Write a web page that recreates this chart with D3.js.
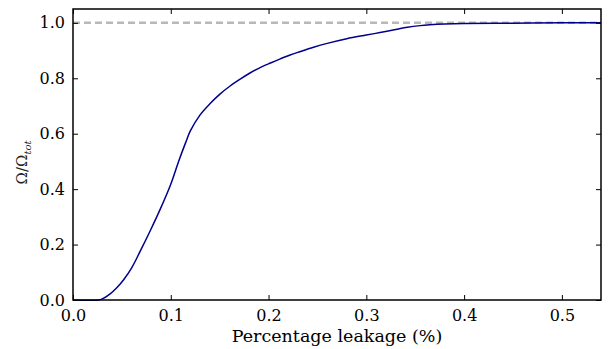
<!DOCTYPE html>
<html>
<head>
<meta charset="utf-8">
<script src="https://cdn.jsdelivr.net/npm/d3@7"></script>
<style>
  body { margin: 0; background: #fff; }
  text { font-family: "DejaVu Serif", serif; }
</style>
</head>
<body>
<div id="chart"></div>
<script>
const width = 611;
const height = 349;
const margin = {top: 9, right: 10, bottom: 49, left: 73};

// leakage (%) and fraction of the total
const leak = [0, 0.026, 0.03, 0.038, 0.045, 0.052, 0.06, 0.069, 0.079, 0.089, 0.1, 0.108, 0.115,
  0.12, 0.13, 0.14, 0.15, 0.161, 0.171, 0.181, 0.19, 0.202, 0.212, 0.222, 0.232, 0.246, 0.26,
  0.28, 0.3, 0.314, 0.33, 0.342, 0.355, 0.365, 0.38, 0.4, 0.45, 0.5, 0.54];
const frac = [0, 0, 0.004, 0.022, 0.045, 0.074, 0.116, 0.178, 0.25, 0.326, 0.418, 0.5, 0.566,
  0.61, 0.668, 0.708, 0.742, 0.773, 0.797, 0.819, 0.836, 0.855, 0.87, 0.884, 0.896, 0.912, 0.926,
  0.943, 0.956, 0.965, 0.976, 0.984, 0.99, 0.993, 0.996, 0.998, 0.999, 1.0, 1.0];

const xTicks = [0, 0.1, 0.2, 0.3, 0.4, 0.5];
const yTicks = [0, 0.2, 0.4, 0.6, 0.8, 1.0];
const refLevel = 1.0;

const w = width - margin.left - margin.right;
const h = height - margin.top - margin.bottom;

const svg = d3.select("#chart").append("svg")
  .attr("width", width)
  .attr("height", height);

const g = svg.append("g")
  .attr("transform", "translate(" + margin.left + "," + margin.top + ")");

const x = d3.scaleLinear().domain([0, 0.54]).range([0, w]);
const y = d3.scaleLinear().domain([0, 1.05]).range([h, 0]);

// dashed reference line
g.append("line")
  .attr("x1", x(0)).attr("x2", x(0.54))
  .attr("y1", y(refLevel)).attr("y2", y(refLevel))
  .attr("stroke", "#b8b8b8")
  .attr("stroke-width", 2.5)
  .attr("stroke-dasharray", "7,4");

// curve
const line = d3.line()
  .x((d, i) => x(leak[i]))
  .y(d => y(d))
  .curve(d3.curveCatmullRom.alpha(0.5));

g.append("path")
  .datum(frac)
  .attr("fill", "none")
  .attr("stroke", "#00008b")
  .attr("stroke-width", 1.5)
  .attr("d", line);

// axes, ticks pointing inward
function styleAxis(sel) {
  sel.select(".domain").remove();
  sel.selectAll(".tick line").attr("stroke", "#000");
  sel.selectAll("text")
    .attr("fill", "#000")
    .style("font-size", "16px")
    .style("font-family", "DejaVu Serif, serif");
}

g.append("g")
  .attr("transform", "translate(0," + h + ")")
  .call(d3.axisBottom(x).tickValues(xTicks).tickFormat(d3.format(".1f"))
    .tickSizeInner(-5).tickPadding(10))
  .call(styleAxis);

g.append("g")
  .call(d3.axisTop(x).tickValues(xTicks).tickSizeInner(-5).tickFormat(""))
  .call(styleAxis);

g.append("g")
  .call(d3.axisLeft(y).tickValues(yTicks).tickFormat(d3.format(".1f"))
    .tickSizeInner(-5).tickPadding(8))
  .call(styleAxis);

g.append("g")
  .attr("transform", "translate(" + w + ",0)")
  .call(d3.axisRight(y).tickValues(yTicks).tickSizeInner(-5).tickFormat(""))
  .call(styleAxis);

// frame
g.append("rect")
  .attr("width", w).attr("height", h)
  .attr("fill", "none")
  .attr("stroke", "#000")
  .attr("stroke-width", 1.5);

// labels
svg.append("text")
  .attr("x", margin.left + w / 2)
  .attr("y", 342)
  .attr("text-anchor", "middle")
  .style("font-size", "17.5px")
  .text("Percentage leakage (%)");

const yl = svg.append("text")
  .attr("transform", "translate(27," + (margin.top + h / 2 + 8) + ") rotate(-90)")
  .attr("text-anchor", "middle")
  .attr("fill", "#222")
  .style("font-size", "15px");
yl.append("tspan").text("Ω/Ω");
yl.append("tspan").attr("dy", 4).style("font-size", "10px").style("font-style", "italic").text("tot");
</script>
</body>
</html>
